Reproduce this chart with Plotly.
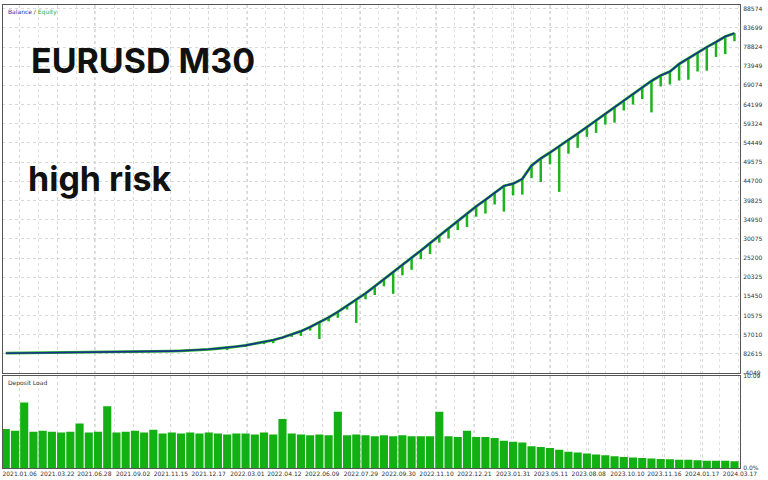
import plotly.graph_objects as go

# balance curve, one point per trade block
balance = [1000, 1020, 1040, 1060, 1080, 1100, 1120, 1140, 1160, 1180,
           1200, 1230, 1260, 1290, 1320, 1350, 1400, 1460, 1530, 1610,
           1700, 1840, 2000, 2200, 2400, 2700, 3000, 3400, 3800, 4350,
           5000, 5750, 6600, 7650, 8800, 10100, 11500, 13000, 14500, 16200,
           18000, 19800, 21500, 23300, 25200, 27100, 29000, 30900, 32800, 34700,
           36500, 38300, 40000, 41800, 43500, 44100, 45300, 48700, 50500, 52000,
           53500, 55200, 56800, 58500, 60200, 61900, 63600, 65300, 67000, 68600,
           70200, 71600, 72600, 74500, 76000, 77400, 78800, 80100, 81500, 82300]

# equity drawdown below balance at each point
dips = [0, 0, 0, 0, 0, 0, 0, 0, 0, 0,
        0, 0, 0, 0, 0, 0, 0, 0, 0, 0,
        0, 0, 0, 0, 600, 0, 400, 300, 500, 800,
        300, 600, 1200, 900, 4200, 1000, 1500, 900, 5800, 1500,
        2200, 1800, 5400, 2500, 3000, 2200, 2800, 1800, 2600, 2400,
        3400, 2600, 3500, 3000, 6500, 3000, 4000, 3200, 6000, 3000,
        11500, 3500, 3600, 2500, 3200, 2800, 4000, 2600, 2800, 3000,
        8000, 2800, 3300, 4200, 5500, 4800, 6000, 3800, 4500, 2000]

# deposit load, percent
load = [4.3, 4.1, 7.2, 4.0, 4.1, 4.0, 3.9, 4.0, 4.9, 3.9,
        4.0, 6.8, 3.9, 4.0, 4.1, 3.9, 4.2, 3.8, 3.9, 3.8,
        3.9, 3.8, 3.9, 3.8, 3.7, 3.8, 3.8, 3.7, 3.9, 3.7,
        5.4, 3.8, 3.7, 3.6, 3.7, 3.6, 6.2, 3.6, 3.7, 3.6,
        3.5, 3.6, 3.5, 3.6, 3.5, 3.5, 3.5, 6.2, 3.5, 3.4,
        4.1, 3.4, 3.4, 3.3, 3.0, 2.9, 2.8, 2.4, 2.3, 2.2,
        2.0, 1.8, 1.7, 1.6, 1.5, 1.4, 1.3, 1.2, 1.15, 1.1,
        1.05, 1.0, 0.95, 0.9, 0.9, 0.85, 0.8, 0.8, 0.8, 0.75]

date_labels = ["2021.01.06", "2021.03.22", "2021.06.28", "2021.09.02", "2021.11.15",
               "2021.12.17", "2022.03.01", "2022.04.12", "2022.06.09", "2022.07.29",
               "2022.09.30", "2022.11.10", "2022.12.21", "2023.01.31", "2023.05.11",
               "2023.08.08", "2023.10.10", "2023.11.16", "2024.01.17", "2024.03.17"]
date_pos = [1.5, 5.6, 9.6, 13.8, 17.9, 22.0, 26.2, 30.2, 34.3, 38.5,
            42.6, 46.7, 50.8, 55.0, 59.1, 63.2, 67.4, 71.4, 75.5, 79.6]

bal_ticks = [88574, 83699, 78824, 73949, 69074, 64199, 59324, 54449, 49575, 44700,
             39825, 34950, 30075, 25200, 20325, 15450, 10575, 5700, 825, -4049]
bal_labels = ["88574", "83699", "78824", "73949", "69074", "64199", "59324", "54449", "49575", "44700",
              "39825", "34950", "30075", "25200", "20325", "15450", "10575", "57010", "82615", "-4049"]

idx = list(range(len(balance)))

seg_x, seg_y = [], []
for i, b, d in zip(idx, balance, dips):
    if d:
        seg_x += [i, i, None]
        seg_y += [b, b - d, None]

GREEN = "#1fb21f"
fig = go.Figure()
fig.add_trace(go.Scatter(x=seg_x, y=seg_y, mode="lines", line=dict(color=GREEN, width=2.5),
                         xaxis="x", yaxis="y", hoverinfo="skip"))
fig.add_trace(go.Scatter(x=idx, y=balance, mode="lines", line=dict(color=GREEN, width=2.8),
                         xaxis="x", yaxis="y"))
fig.add_trace(go.Scatter(x=idx, y=balance, mode="lines", line=dict(color="#1a2f8f", width=1.6),
                         xaxis="x", yaxis="y"))
fig.add_trace(go.Bar(x=idx, y=load, marker=dict(color="#12b012", line=dict(width=0)),
                     xaxis="x2", yaxis="y2"))

grid = dict(showgrid=True, gridcolor="#d8d8d8", griddash="dot", gridwidth=1)
minor = dict(dtick=2.05, tick0=-0.55, showgrid=True, gridcolor="#e2e2e2", griddash="dot")
xr = [-0.3, 79.6]
fig.update_layout(
    width=768, height=480, showlegend=False, bargap=0.12,
    plot_bgcolor="white", paper_bgcolor="white",
    margin=dict(l=3, r=28, t=5, b=12, autoexpand=False),
    font=dict(family="DejaVu Sans", size=7, color="#333"),
    xaxis=dict(domain=[0, 1], range=xr, anchor="y", showticklabels=False, automargin=False,
               tickvals=date_pos, ticks="", showline=True, linecolor="#555", mirror=True,
               minor=minor, **grid),
    yaxis=dict(domain=[0.205, 1], range=[-4049, 89500], side="right", tickvals=bal_ticks,
               ticktext=bal_labels, showline=True, linecolor="#555", mirror=True, zeroline=False,
               automargin=False, tickfont=dict(size=6), ticklabelstandoff=1, **grid),
    xaxis2=dict(domain=[0, 1], range=xr, anchor="y2", tickvals=date_pos, ticktext=date_labels,
                tickfont=dict(size=6), ticks="", showline=True, linecolor="#555", mirror=True,
                automargin=False, ticklabelstandoff=0, minor=minor, **grid),
    yaxis2=dict(domain=[0, 0.198], range=[0, 10.09], side="right", tickvals=[0, 10.09],
                ticktext=["0.0%", "10.09"], showline=True, linecolor="#555", mirror=True,
                automargin=False, showgrid=False, zeroline=False, tickfont=dict(size=6),
                ticklabelstandoff=1),
    annotations=[
        dict(text="<span style='color:#2b2bb0'>Balance</span> / <span style='color:#2fae2f'>Equity</span>",
             xref="paper", yref="paper", x=0.004, y=0.998, xanchor="left", yanchor="top",
             showarrow=False, font=dict(size=6)),
        dict(text="Deposit Load", xref="paper", yref="paper", x=0.004, y=0.196,
             xanchor="left", yanchor="top", showarrow=False, font=dict(size=6)),
        dict(text="<b>EURUSD M30</b>", xref="paper", yref="paper", x=0.035, y=0.88,
             xanchor="left", yanchor="middle", showarrow=False,
             font=dict(family="Inter", size=34, color="#111")),
        dict(text="<b>high risk</b>", xref="paper", yref="paper", x=0.031, y=0.625,
             xanchor="left", yanchor="middle", showarrow=False,
             font=dict(family="Inter", size=34, color="#111")),
    ],
)

fig.write_html("out.html", config={"displayModeBar": False},
               post_script="document.body.style.margin='0';")
